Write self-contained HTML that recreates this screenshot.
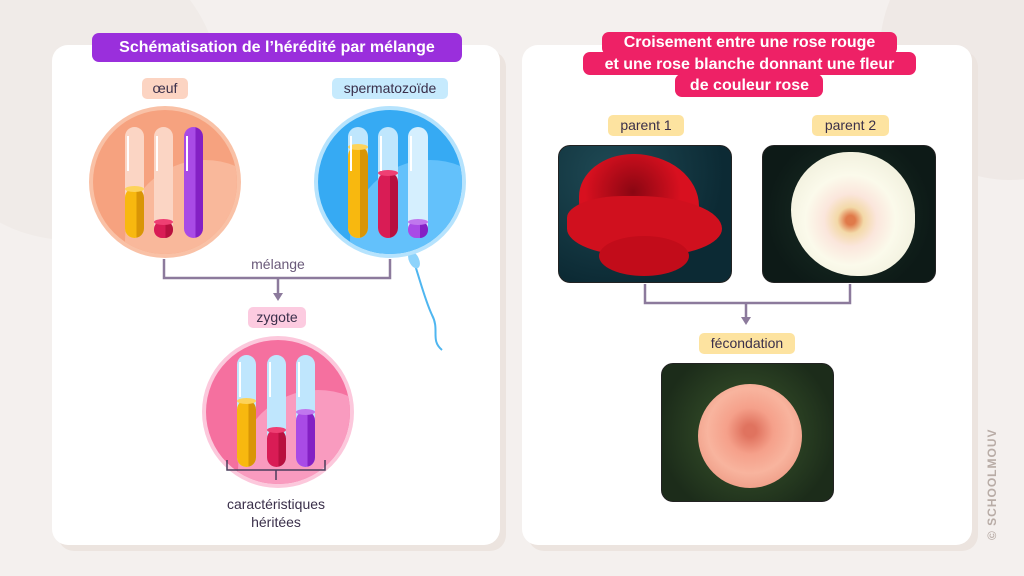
<!DOCTYPE html>
<html><head><meta charset="utf-8"><style>
body{margin:0;width:1024px;height:576px;overflow:hidden;background:#f4f0ee;font-family:"Liberation Sans",sans-serif;position:relative}
.a{position:absolute}
.panel{position:absolute;background:#fff;border-radius:16px;box-shadow:6px 6px 0 #ece4df}
.pill{position:absolute;border-radius:5px;color:#3a2f4a;font-size:14px;text-align:center;line-height:21px;white-space:nowrap}
.t{position:absolute;color:#fff;font-weight:bold;font-size:16px;text-align:center;white-space:nowrap;border-radius:7px;line-height:23px}
.photo{position:absolute;border-radius:12px;border:1.5px solid #222;overflow:hidden}
</style></head><body>
<div class="a" style="left:-80px;top:-60px;width:300px;height:300px;border-radius:50%;background:#f0ebe8"></div>
<div class="a" style="left:880px;top:-80px;width:260px;height:260px;border-radius:50%;background:#efe9e6"></div>
<div class="panel" style="left:52px;top:45px;width:448px;height:500px"></div>
<div class="panel" style="left:522px;top:45px;width:450px;height:500px"></div>

<svg class="a" style="left:0;top:0" width="1024" height="576">
<defs>
<linearGradient id="y" x1="0" x2="1"><stop offset="0.6" stop-color="#f8b80f"/><stop offset="0.6" stop-color="#d99506"/></linearGradient>
<linearGradient id="r" x1="0" x2="1"><stop offset="0.6" stop-color="#d91c55"/><stop offset="0.6" stop-color="#b8103f"/></linearGradient>
<linearGradient id="p" x1="0" x2="1"><stop offset="0.6" stop-color="#a94be6"/><stop offset="0.6" stop-color="#8420c4"/></linearGradient>
<clipPath id="c1"><circle cx="165" cy="182" r="72"/></clipPath>
<clipPath id="c2"><circle cx="390" cy="182" r="72"/></clipPath>
<clipPath id="c3"><circle cx="278" cy="412" r="72"/></clipPath>
</defs>
<!-- egg -->
<circle cx="165" cy="182" r="76" fill="#f9c1a6"/><circle cx="165" cy="182" r="72" fill="#f6a27f"/>
<circle cx="205" cy="240" r="80" fill="#f9b89b" clip-path="url(#c1)"/>
<rect x="125" y="127" width="19" height="111" rx="9.5" fill="#fbd5c4"/>
<rect x="125" y="188" width="19" height="50" rx="9.5" fill="url(#y)"/><ellipse cx="134.5" cy="189" rx="9.5" ry="3" fill="#fdd35a"/>
<rect x="154" y="127" width="19" height="111" rx="9.5" fill="#fbd5c4"/>
<rect x="154" y="221" width="19" height="17" rx="8" fill="url(#r)"/><ellipse cx="163.5" cy="222" rx="9.5" ry="3" fill="#ef3f73"/>
<rect x="184" y="127" width="19" height="111" rx="9.5" fill="url(#p)"/>
<rect x="127" y="136" width="2" height="35" fill="#fff"/><rect x="156" y="136" width="2" height="35" fill="#fff"/><rect x="186" y="136" width="2" height="35" fill="#fff"/>
<!-- sperm -->
<path d="M414 262 C 420 280, 425 300, 432 315 C 440 330, 430 340, 442 350" stroke="#4fb6f0" stroke-width="2" fill="none"/>
<ellipse cx="414" cy="260" rx="5" ry="9" fill="#8dd3fb" transform="rotate(-25 414 260)"/>
<circle cx="390" cy="182" r="76" fill="#b6e3fd"/><circle cx="390" cy="182" r="72" fill="#36aaf3"/>
<circle cx="430" cy="240" r="80" fill="#63c1fb" clip-path="url(#c2)"/>
<rect x="348" y="127" width="20" height="111" rx="10" fill="#bfe6fd"/>
<rect x="348" y="146" width="20" height="92" rx="10" fill="url(#y)"/><ellipse cx="358" cy="147" rx="10" ry="3" fill="#fdd35a"/>
<rect x="378" y="127" width="20" height="111" rx="10" fill="#bfe6fd"/>
<rect x="378" y="172" width="20" height="66" rx="10" fill="url(#r)"/><ellipse cx="388" cy="173" rx="10" ry="3" fill="#ef3f73"/>
<rect x="408" y="127" width="20" height="111" rx="10" fill="#d5effe"/>
<rect x="408" y="221" width="20" height="17" rx="8" fill="url(#p)"/><ellipse cx="418" cy="222" rx="10" ry="3" fill="#c077ee"/>
<rect x="350" y="136" width="2" height="35" fill="#fff"/><rect x="380" y="136" width="2" height="35" fill="#fff"/><rect x="410" y="136" width="2" height="35" fill="#fff"/>
<!-- connector -->
<path d="M164 259 V278 H390 V259 M278 278 V294" stroke="#8c7a9c" stroke-width="2.5" fill="none"/>
<path d="M273 293 L283 293 L278 301 Z" fill="#8c7a9c"/>
<!-- zygote -->
<circle cx="278" cy="412" r="76" fill="#fcc8dc"/><circle cx="278" cy="412" r="72" fill="#f5709f"/>
<circle cx="318" cy="470" r="80" fill="#f99bbf" clip-path="url(#c3)"/>
<rect x="237" y="355" width="19" height="112" rx="9.5" fill="#bfe6fd"/>
<rect x="237" y="400" width="19" height="67" rx="9.5" fill="url(#y)"/><ellipse cx="246.5" cy="401" rx="9.5" ry="3" fill="#fdd35a"/>
<rect x="267" y="355" width="19" height="112" rx="9.5" fill="#bfe6fd"/>
<rect x="267" y="429" width="19" height="38" rx="9.5" fill="url(#r)"/><ellipse cx="276.5" cy="430" rx="9.5" ry="3" fill="#ef3f73"/>
<rect x="296" y="355" width="19" height="112" rx="9.5" fill="#bfe6fd"/>
<rect x="296" y="411" width="19" height="56" rx="9.5" fill="url(#p)"/><ellipse cx="305.5" cy="412" rx="9.5" ry="3" fill="#c077ee"/>
<rect x="239" y="362" width="2" height="35" fill="#fff"/><rect x="269" y="362" width="2" height="35" fill="#fff"/><rect x="298" y="362" width="2" height="35" fill="#fff"/>
<path d="M227 460 V470 H325 V460 M276 470 V480" stroke="#4a3d5c" stroke-width="1.5" fill="none"/>
<!-- right connector -->
<path d="M645 284 V303 H850 V284 M746 303 V318" stroke="#8c7a9c" stroke-width="2.5" fill="none"/>
<path d="M741 317 L751 317 L746 325 Z" fill="#8c7a9c"/>
</svg>

<div class="t" style="left:92px;top:33px;width:370px;height:29px;line-height:29px;background:#9a2fdc">Schématisation de l’hérédité par mélange</div>
<div class="t" style="left:602px;top:32px;width:295px;background:#ee2166">&nbsp;</div>
<div class="t" style="left:583px;top:52px;width:333px;background:#ee2166">&nbsp;</div>
<div class="t" style="left:675px;top:74px;width:148px;background:#ee2166">&nbsp;</div>
<div class="t" style="left:583px;top:32px;width:333px;line-height:21.5px;background:none">Croisement entre une rose rouge<br>et une rose blanche donnant une fleur<br>de couleur rose</div>

<div class="pill" style="left:142px;top:78px;width:46px;background:#fcd4c2">œuf</div>
<div class="pill" style="left:332px;top:78px;width:116px;background:#c6eafd">spermatozoïde</div>
<div class="pill" style="left:246px;top:254px;width:64px;background:#fff;color:#6a5a7a">mélange</div>
<div class="pill" style="left:248px;top:307px;width:58px;background:#fccbe0">zygote</div>
<div class="a" style="left:200px;top:495px;width:152px;text-align:center;font-size:14px;line-height:18px;color:#3a2f4a">caractéristiques<br>héritées</div>

<div class="pill" style="left:608px;top:115px;width:76px;background:#fde3a0">parent 1</div>
<div class="pill" style="left:812px;top:115px;width:77px;background:#fde3a0">parent 2</div>
<div class="pill" style="left:699px;top:333px;width:96px;background:#fde3a0">fécondation</div>

<div class="photo" style="left:558px;top:145px;width:172px;height:136px;background:radial-gradient(circle at 30% 20%,#1f4a55,#0c2a34 70%)">
<div class="a" style="left:20px;top:8px;width:120px;height:95px;border-radius:45% 55% 40% 50%;background:radial-gradient(circle at 45% 40%,#8a0612,#d8101f 55%)"></div>
<div class="a" style="left:8px;top:50px;width:155px;height:60px;border-radius:40% 60% 50% 50%;background:#d0101e"></div>
<div class="a" style="left:40px;top:90px;width:90px;height:40px;border-radius:50%;background:#c20c1a"></div>
</div>
<div class="photo" style="left:762px;top:145px;width:172px;height:136px;background:radial-gradient(circle at 50% 50%,#1d3328,#0d1a17 75%)">
<div class="a" style="left:28px;top:6px;width:124px;height:124px;border-radius:48% 52% 45% 55%;background:radial-gradient(circle at 48% 55%,#e07a4a 5%,#f3d9a8 14%,#fbe6dc 28%,#fbfaeb 48%,#f3f2e0 70%)"></div>
</div>
<div class="photo" style="left:661px;top:363px;width:171px;height:137px;background:radial-gradient(circle at 50% 50%,#3d5a2e,#1c2c1a 80%)">
<div class="a" style="left:36px;top:20px;width:104px;height:104px;border-radius:50%;background:radial-gradient(circle at 50% 45%,#e0735f 8%,#f5a08a 30%,#f8b49e 55%,#f0a08a 75%)"></div>
</div>

<div class="a" style="left:985px;top:540px;transform:rotate(-90deg);transform-origin:0 0;font-size:12px;font-weight:bold;color:#b8aca6;letter-spacing:1px;white-space:nowrap">© SCHOOLMOUV</div>
</body></html>
